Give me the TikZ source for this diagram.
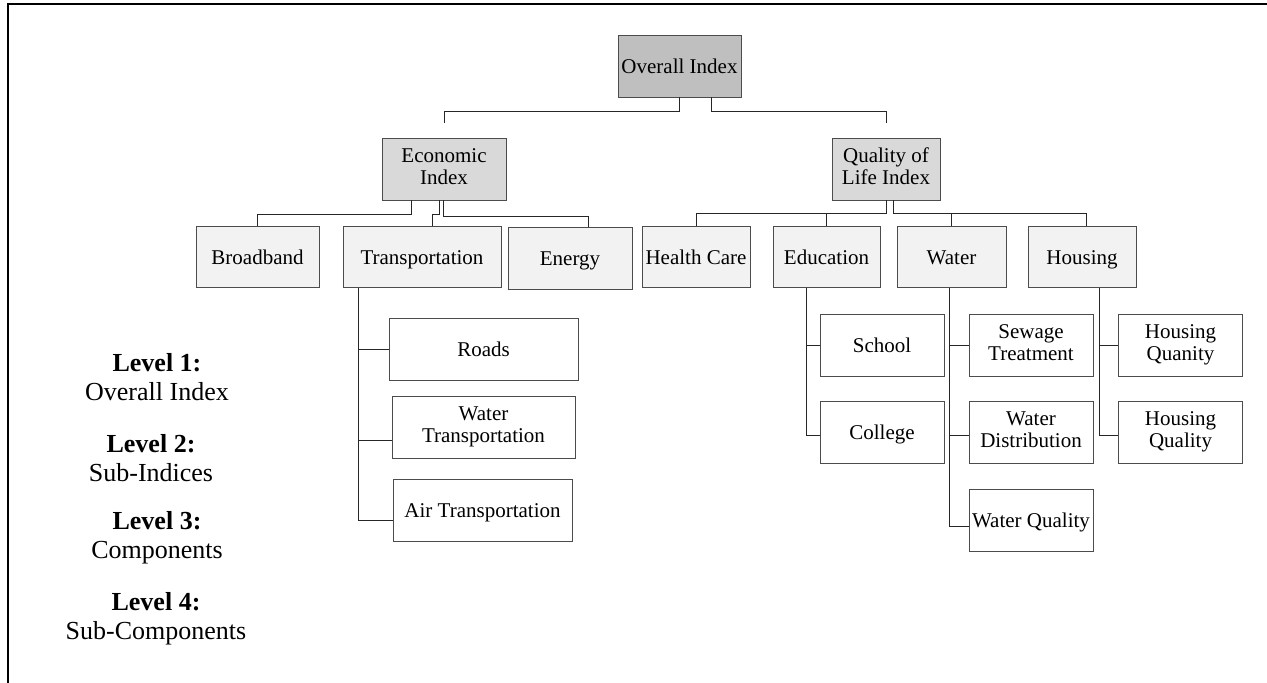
\documentclass[tikz,border=0pt]{standalone}
\usepackage{fontspec}
\setmainfont{Liberation Serif}
\usetikzlibrary{calc}
\newcommand\boxstrut{\rule[-5pt]{0pt}{24.6pt}}
\begin{document}
\begin{tikzpicture}[x=1pt,y=-1pt,
	box/.style={draw=black!70,line width=0.9pt,align=center,inner sep=1pt,font=\fontsize{21}{22}\selectfont,minimum height=62pt,
		execute at begin node=\boxstrut,execute at end node=\boxstrut},
	topbox/.style={box,fill=black!25},
	subbox/.style={box,fill=black!15},
	compbox/.style={box,fill=black!5,minimum height=61pt},
	leafbox/.style={box,fill=white},
	link/.style={draw=black!85,line width=0.9pt},
	legend/.style={align=center,font=\fontsize{26}{29}\selectfont}]
				\useasboundingbox (0,0) rectangle (1267,683);
				\draw[line width=2.2pt] (8,683) -- (8,4) -- (1267,4);
				% level 1 and 2
				\node[topbox,minimum width=123pt] (overall) at (679.5,66) {Overall Index};
				\node[subbox,minimum width=124pt] (econ) at (444,169) {Economic\\Index};
				\node[subbox,minimum width=108pt] (qol) at (886,169) {Quality of\\Life Index};
				% level 3
				\node[compbox,minimum width=123pt] (broadband) at (257.5,257) {Broadband};
				\node[compbox,minimum width=158pt] (transp) at (422,257) {Transportation};
				\node[compbox,minimum width=124pt,minimum height=62pt] (energy) at (570,258) {Energy};
				\node[compbox,minimum width=108pt] (health) at (696,257) {Health Care};
				\node[compbox,minimum width=107pt] (educ) at (826.5,257) {Education};
				\node[compbox,minimum width=109pt] (water) at (951.5,257) {Water};
				\node[compbox,minimum width=108pt] (housing) at (1082,257) {Housing};
				% level 4
				\node[leafbox,minimum width=189pt] (roads) at (483.5,349) {Roads};
				\node[leafbox,minimum width=183pt] (watertr) at (483.5,427) {Water\\Transportation};
				\node[leafbox,minimum width=179pt] (airtr) at (482.5,510) {Air Transportation};
				\node[leafbox,minimum width=124pt] (school) at (882,345) {School};
				\node[leafbox,minimum width=124pt] (college) at (882,432.5) {College};
				\node[leafbox,minimum width=124pt] (sewage) at (1031,345) {Sewage\\Treatment};
				\node[leafbox,minimum width=124pt] (distrib) at (1031,432.5) {Water\\Distribution};
				\node[leafbox,minimum width=124pt] (wquality) at (1031,520) {Water Quality};
				\node[leafbox,minimum width=124pt] (hquan) at (1180.5,345) {Housing\\Quanity};
				\node[leafbox,minimum width=124pt] (hqual) at (1180.5,432.5) {Housing\\Quality};
				% connectors
				\draw[link] (overall.south) -- ++(0,13.5) -| ([yshift=15pt]econ.north);
				\draw[link] ([xshift=32pt]overall.south) -- ++(0,13.5) -| ([yshift=15pt]qol.north);
				\draw[link] ([xshift=-33pt]econ.south) -- ++(0,14) -| (broadband.north);
				\draw[link] ([xshift=-5pt]econ.south) -- ++(0,14) -| ([xshift=10pt]transp.north);
				\draw[link] ([xshift=-1pt]econ.south) -- ++(0,16) -| ([xshift=18pt]energy.north);
				\draw[link] (qol.south) -- ++(0,12.7) -| (health.north);
				\draw[link] (qol.south) -- ++(0,12.7) -| (educ.north);
				\draw[link] ([xshift=7pt]qol.south) -- ++(0,12.7) -| (water.north);
				\draw[link] ([xshift=7pt]qol.south) -- ++(0,12.7) -| ([xshift=4.7pt]housing.north);
				\draw[link] ([xshift=16pt]transp.south west) |- (roads.west);
				\draw[link] ([xshift=16pt]transp.south west) |- ([yshift=-13pt]watertr.west);
				\draw[link] ([xshift=16pt]transp.south west) |- ([yshift=-10pt]airtr.west);
				\draw[link] ([xshift=34pt]educ.south west) |- (school.west);
				\draw[link] ([xshift=34pt]educ.south west) |- ([yshift=-3pt]college.west);
				\draw[link] ([xshift=53pt]water.south west) |- (sewage.west);
				\draw[link] ([xshift=53pt]water.south west) |- ([yshift=-3pt]distrib.west);
				\draw[link] ([xshift=53pt]water.south west) |- ([yshift=-6pt]wquality.west);
				\draw[link] ([xshift=72pt]housing.south west) |- (hquan.west);
				\draw[link] ([xshift=72pt]housing.south west) |- ([yshift=-3pt]hqual.west);
				% legend
				\node[legend] (lev1) at (157,377) {\textbf{Level 1:}\\Overall Index};
				\node[legend] (lev2) at (151,458) {\textbf{Level 2:}\\Sub-Indices};
				\node[legend] (lev3) at (157,538) {\textbf{Level 3:}\\Components};
				\node[legend] (lev4) at (156,619) {\textbf{Level 4:}\\Sub-Components};
\end{tikzpicture}
\end{document}
